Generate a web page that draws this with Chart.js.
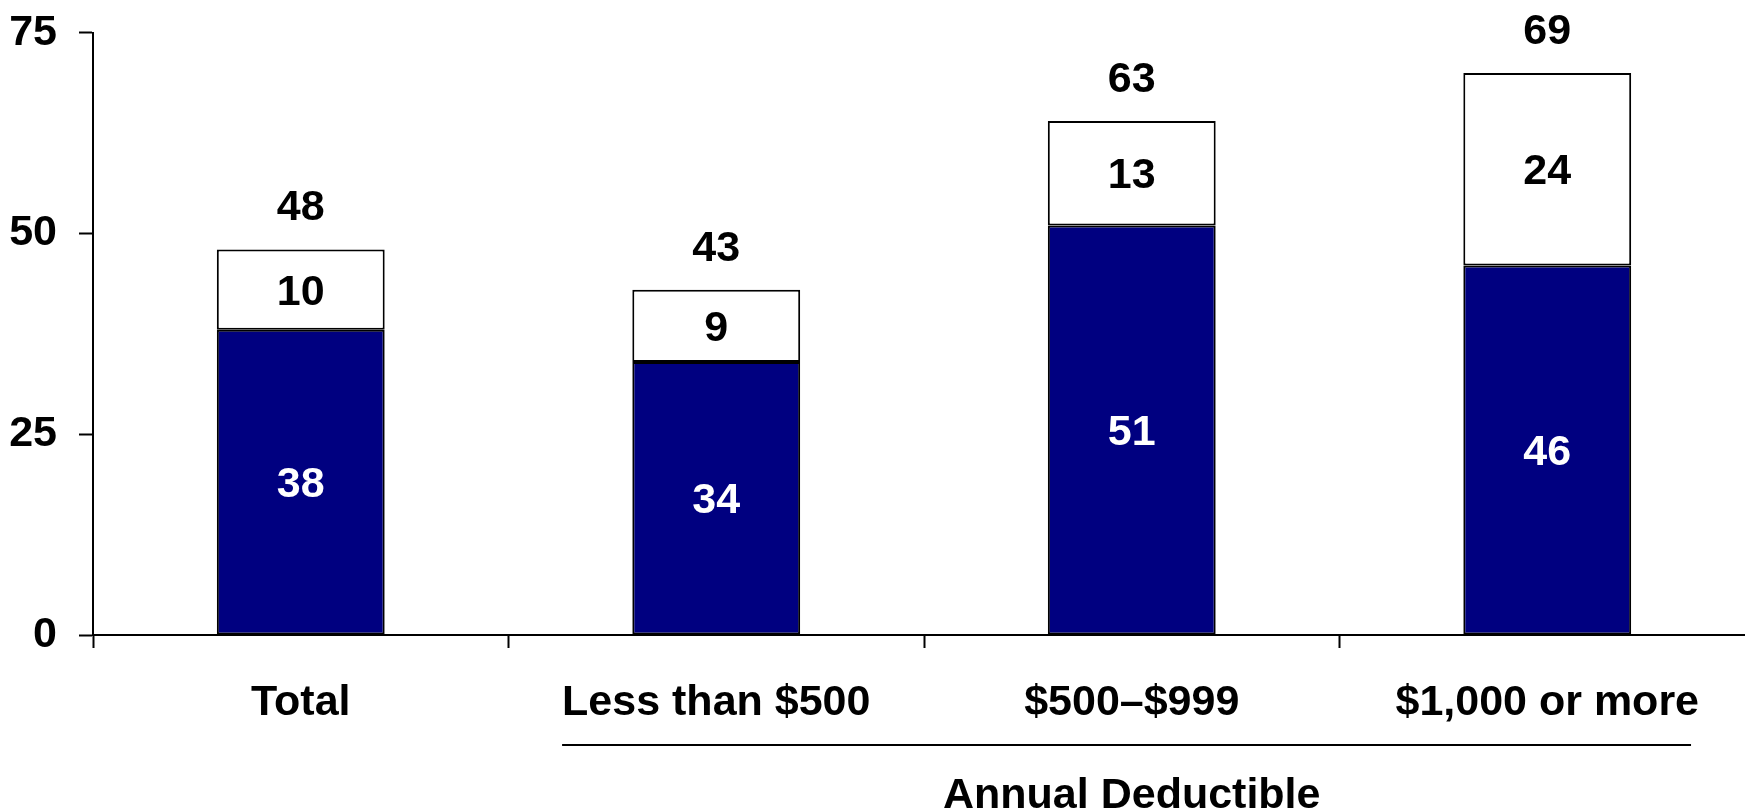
<!DOCTYPE html>
<html>
<head>
<meta charset="utf-8">
<script src="https://cdn.jsdelivr.net/npm/chart.js@4/dist/chart.umd.min.js"></script>
<style>
  html, body { margin: 0; padding: 0; background: #fff; overflow: hidden; }
  #wrap { width: 1760px; height: 809px; }
</style>
</head>
<body>
<div id="wrap"><canvas id="chart"></canvas></div>
<script>
const categories = ["Total", "Less than $500", "$500\u2013$999", "$1,000 or more"];
const lowerValues = [38, 34, 51, 46];
const upperValues = [10, 9, 13, 24];
const totalLabels = [48, 43, 63, 69];
const yTicks = [0, 25, 50, 75];
const groupTitle = "Annual Deductible";

const FONT = "'Liberation Sans', Arial, sans-serif";
const SIZE = 43;

// value labels inside segments and totals above each bar
const barLabels = {
  id: "barLabels",
  afterDatasetsDraw(chart) {
    const ctx = chart.ctx;
    ctx.save();
    ctx.font = "bold " + SIZE + "px " + FONT;
    ctx.textAlign = "center";
    ctx.textBaseline = "middle";
    chart.data.datasets.forEach((ds, i) => {
      const meta = chart.getDatasetMeta(i);
      meta.data.forEach((el, j) => {
        ctx.fillStyle = i === 0 ? "#fff" : "#000";
        ctx.fillText(String(ds.data[j]), el.x, (el.y + el.base) / 2 + 3);
        if (i === chart.data.datasets.length - 1) {
          ctx.fillStyle = "#000";
          ctx.fillText(String(totalLabels[j]), el.x, el.y - 41);
        }
      });
    });
    ctx.restore();
  }
};

// line + title grouping the deductible categories
const groupLabel = {
  id: "groupLabel",
  afterDraw(chart) {
    const ctx = chart.ctx;
    const x = chart.scales.x;
    ctx.save();
    ctx.font = "bold " + SIZE + "px " + FONT;
    const c1 = x.getPixelForValue(1), c3 = x.getPixelForValue(3);
    const left = c1 - ctx.measureText(categories[1]).width / 2;
    const right = c3 + ctx.measureText(categories[3]).width / 2 - 8;
    ctx.strokeStyle = "#000";
    ctx.lineWidth = 2;
    ctx.beginPath();
    ctx.moveTo(left, 745);
    ctx.lineTo(right, 745);
    ctx.stroke();
    ctx.fillStyle = "#000";
    ctx.textAlign = "center";
    ctx.textBaseline = "middle";
    ctx.fillText(groupTitle, (c1 + c3) / 2, 796);
    ctx.restore();
  }
};

new Chart(document.getElementById("chart"), {
  type: "bar",
  data: {
    labels: categories,
    datasets: [
      {
        data: lowerValues,
        backgroundColor: "#000080",
        borderColor: "#000",
        borderWidth: 2,
        borderSkipped: false,
        categoryPercentage: 1,
        barPercentage: 0.404
      },
      {
        data: upperValues,
        backgroundColor: "#fff",
        borderColor: "#000",
        borderWidth: 2,
        borderSkipped: false,
        categoryPercentage: 1,
        barPercentage: 0.404
      }
    ]
  },
  options: {
    responsive: true,
    maintainAspectRatio: false,
    animation: false,
    layout: { padding: { top: 31, left: 0, right: 5, bottom: 0 } },
    plugins: { legend: { display: false }, tooltip: { enabled: false } },
    scales: {
      x: {
        stacked: true,
        offset: true,
        grid: {
          offset: true,
          drawOnChartArea: false,
          drawTicks: true,
          tickLength: 13,
          tickColor: "#000",
          tickWidth: 2
        },
        border: { color: "#000", width: 2 },
        ticks: {
          color: "#000",
          padding: 29,
          maxRotation: 0,
          autoSkip: false,
          font: { family: FONT, size: SIZE, weight: "bold" }
        },
        afterFit(scale) { scale.height = 174; }
      },
      y: {
        stacked: true,
        min: 0,
        max: 75,
        afterBuildTicks(scale) { scale.ticks = yTicks.map(v => ({ value: v })); },
        grid: {
          drawOnChartArea: false,
          drawTicks: true,
          tickLength: 14,
          tickColor: "#000",
          tickWidth: 2
        },
        border: { color: "#000", width: 2 },
        ticks: {
          color: "#000",
          padding: 22,
          font: { family: FONT, size: SIZE, weight: "bold", lineHeight: 0.5 }
        },
        afterFit(scale) { scale.width = 93; }
      }
    }
  },
  plugins: [barLabels, groupLabel]
});
</script>
</body>
</html>
